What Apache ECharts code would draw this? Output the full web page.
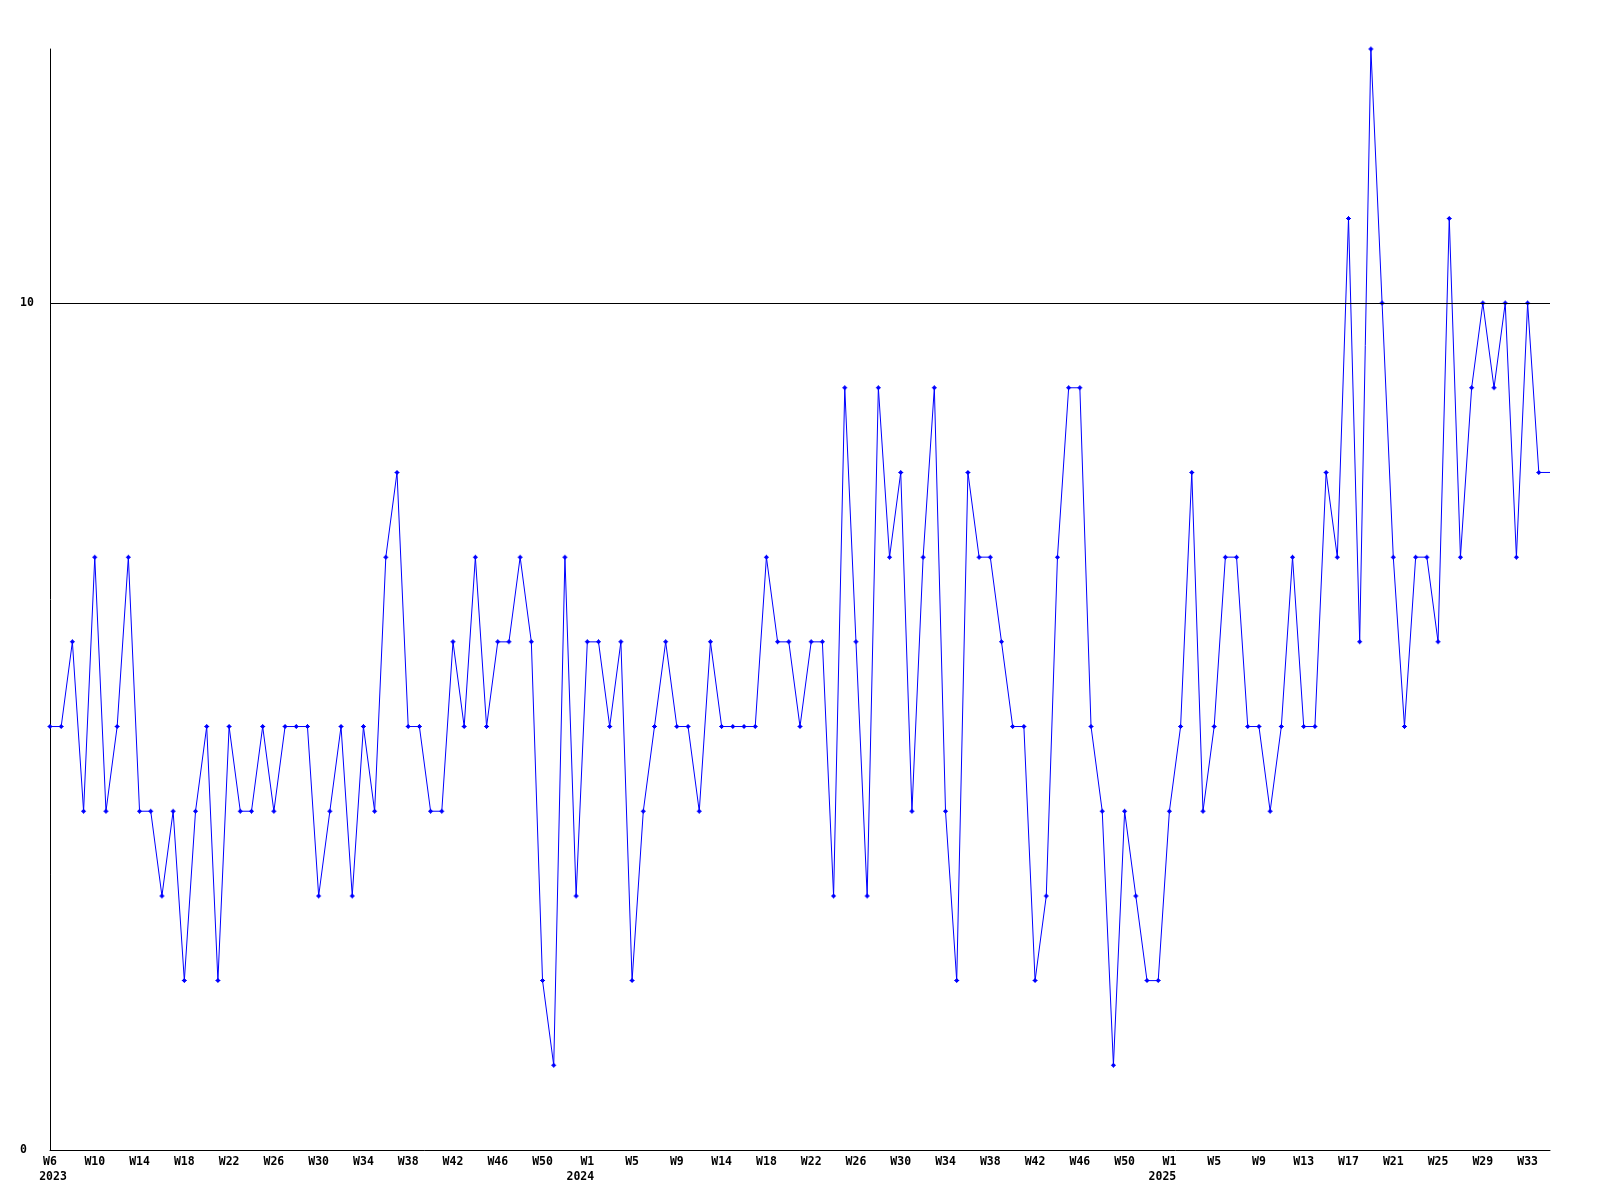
<!DOCTYPE html>
<html>
<head>
<meta charset="utf-8">
<script src="https://cdn.jsdelivr.net/npm/echarts@6/dist/echarts.min.js"></script>
<style>
html,body{margin:0;padding:0;background:#fff;}
#chart{width:1600px;height:1200px;}
</style>
</head>
<body>
<div id="chart"></div>
<script>
// Weekly values, 2023 W6 onward (one per week)
const values = [
  5,5,6,4,7,4,5,7,4,4,3,4,2,4,5,2,5,4,4,5,4,
  5,5,5,3,4,5,3,5,4,7,8,5,5,4,4,6,5,7,5,6,6,7,6,2,
  1,7,3,6,6,5,6,2,4,5,6,5,5,4,6,5,5,5,5,7,6,6,5,6,
  6,3,9,6,3,9,7,8,4,7,9,4,2,8,7,7,6,5,5,2,3,7,9,9,
  5,4,1,4,3,2,2,4,5,8,4,5,7,7,5,5,4,5,7,5,5,8,7,11,6,13,10,7,5,7,7,6,11,7,9,10,9,10,7,10,8,
  8
];
// Tick labels shown every 4th point
const tickLabels = ['W6','W10','W14','W18','W22','W26','W30','W34','W38','W42','W46','W50',
  'W1','W5','W9','W14','W18','W22','W26','W30','W34','W38','W42','W46','W50',
  'W1','W5','W9','W13','W17','W21','W25','W29','W33'];
const yearTicks = [0, 12, 25];
const yearNames = ['2023', '2024', '2025'];
const tickStep = 4;
const yTicks = [0, 10];
const refLine = 10;

const categories = values.map((v, i) => String(i));
const seriesData = values.map((v, i) => i === values.length - 1 ? {value: v, symbol: 'none'} : v);

const chart = echarts.init(document.getElementById('chart'), null, {renderer: 'canvas'});
const font = 'DejaVu Sans Mono';
chart.setOption({
  backgroundColor: '#ffffff',
  animation: false,
  grid: {left: 50, right: 50, top: 49, bottom: 50},
  xAxis: {
    type: 'category',
    data: categories,
    boundaryGap: false,
    axisLine: {lineStyle: {color: '#000', width: 1}},
    axisTick: {show: false},
    splitLine: {show: false},
    axisLabel: {
      interval: (i) => i % tickStep === 0,
      margin: 5,
      color: '#000',
      fontFamily: font,
      fontWeight: 'bold',
      fontSize: 11.5,
      lineHeight: 15,
      formatter: (val, idx) => {
        const k = idx / tickStep;
        if (!Number.isInteger(k) || k >= tickLabels.length) return '';
        const yi = yearTicks.indexOf(k);
        if (yi < 0) return '{w|' + tickLabels[k] + '}';
        return '{w|' + tickLabels[k] + '}\n{' + (yi === 0 ? 'y0' : 'y') + '|' + yearNames[yi] + '}';
      },
      rich: {
        w: {fontFamily: font, fontWeight: 'bold', fontSize: 11.5, lineHeight: 15, color: '#000'},
        y0: {fontFamily: font, fontWeight: 'bold', fontSize: 11.5, lineHeight: 15, color: '#000', padding: [0, 0, 0, 6]},
        y: {fontFamily: font, fontWeight: 'bold', fontSize: 11.5, lineHeight: 15, color: '#000', padding: [0, 14, 0, 0]}
      }
    }
  },
  yAxis: {
    type: 'value',
    min: 0,
    max: 13,
    interval: 10,
    axisLine: {show: true, lineStyle: {color: '#000', width: 1}},
    axisTick: {show: false},
    splitLine: {show: false},
    axisLabel: {
      align: 'left',
      margin: 30,
      color: '#000',
      fontFamily: font,
      fontWeight: 'bold',
      fontSize: 11.5,
      formatter: (v) => yTicks.indexOf(v) >= 0 ? String(v) : ''
    }
  },
  series: [{
    type: 'line',
    data: seriesData,
    clip: false,
    symbol: 'path://M1,1H4V4H1Z M2,0H3V5H2Z M0,2H5V3H0Z',
    symbolSize: 5,
    showSymbol: true,
    itemStyle: {color: '#0000ff'},
    lineStyle: {color: '#0000ff', width: 1},
    markLine: {
      silent: true,
      symbol: 'none',
      label: {show: false},
      lineStyle: {color: '#000', width: 1, type: 'solid'},
      data: [{yAxis: refLine}]
    },
    z: 3
  }]
});
</script>
</body>
</html>
